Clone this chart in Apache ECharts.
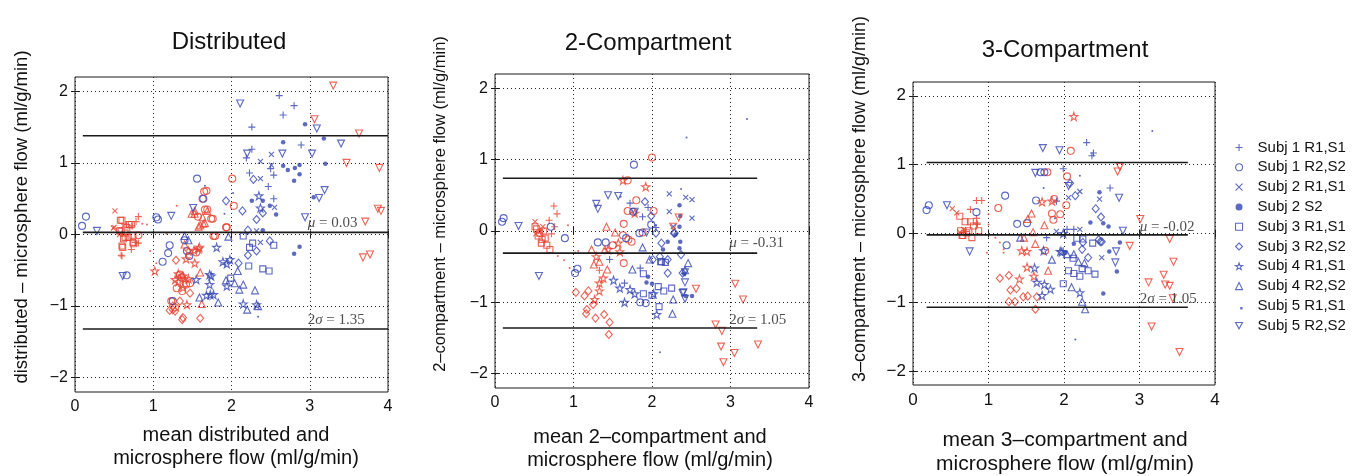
<!DOCTYPE html>
<html>
<head>
<meta charset="utf-8">
<script src="https://cdn.jsdelivr.net/npm/echarts@6/dist/echarts.min.js"></script>
<style>
  html, body { margin: 0; background: #fff; }
  #main { width: 1371px; height: 476px; }
</style>
</head>
<body>
<div id="main"></div>
<script>
// legend entries, one per subject / run
var subjects = ['Subj 1 R1,S1', 'Subj 1 R2,S2', 'Subj 2 R1,S1', 'Subj 2 S2', 'Subj 3 R1,S1',
                'Subj 3 R2,S2', 'Subj 4 R1,S1', 'Subj 4 R2,S2', 'Subj 5 R1,S1', 'Subj 5 R2,S2'];
var yTicks = [-2, -1, 0, 1, 2];

// ---- Distributed ----
var distPlusRed = [[0.81,0.25],[0.70,0.09],[0.81,-0.12],[0.72,-0.21],[0.60,-0.30],[0.78,0.18],[0.66,0.14],[0.77,-0.11],[0.59,-0.29],[0.73,0.12]];
var distPlusBlue = [[2.61,1.94],[2.80,1.80],[2.66,1.67],[2.26,1.50],[2.89,1.25],[2.26,1.19],[2.19,1.07],[2.50,0.92],[2.23,0.86],[2.54,0.83],[2.47,0.67],[2.54,0.50]];
var distCircRed = [[2.01,0.78],[1.65,0.60],[1.68,0.61],[1.63,0.50],[2.03,0.40],[1.66,0.35],[1.69,0.35],[1.74,0.22],[1.76,0.22],[1.94,0.10],[1.93,0.10],[1.77,-0.02],[1.79,-0.02],[0.81,-0.01],[1.34,-0.56],[1.47,-0.68],[1.30,-0.75],[1.37,-0.79],[1.28,-1.02],[1.23,-0.93],[1.57,0.25],[1.36,-0.60],[1.42,-0.70],[1.55,-0.25]];
var distCircBlue = [[1.56,0.78],[1.64,0.50],[0.14,0.25],[0.09,0.12],[1.06,0.21],[1.04,0.24],[1.21,-0.15],[1.19,-0.26],[1.12,-0.38],[0.66,-0.57],[1.43,-0.23],[1.25,-0.93],[1.46,-0.30],[1.40,-0.08]];
var distCrossRed = [[0.51,0.33],[0.49,0.09],[0.57,0.00],[0.62,0.12],[0.50,0.10]];
var distCrossBlue = [[2.51,1.12],[2.37,1.02],[2.37,0.78],[2.55,0.38],[2.32,0.05],[2.37,-0.11],[2.51,0.97]];
var distFillRed = [];
var distFillBlue = [[2.94,1.54],[2.66,1.29],[3.18,1.34],[3.20,0.99],[2.66,0.96],[2.72,0.90],[2.81,0.93],[2.87,0.97],[2.80,0.75],[2.87,0.84],[3.05,0.52],[2.57,0.28],[2.49,0.40],[2.40,0.06],[2.87,-0.17],[2.80,-0.27],[2.26,0.47],[2.40,0.47]];
var distSqRed = [[0.60,0.20],[0.58,0.20],[0.72,0.14],[0.64,0.02],[0.59,0.05],[0.64,-0.04],[0.74,-0.01],[0.62,-0.06],[0.75,-0.13],[0.74,-0.11],[0.60,-0.16],[0.61,-0.18],[0.69,0.14],[0.68,-0.04],[0.57,0.05]];
var distSqBlue = [[2.15,-0.02],[2.23,-0.18],[2.27,-0.12],[2.54,-0.15],[2.22,-0.44],[2.40,-0.48],[2.48,-0.51],[1.99,-0.61]];
var distDiaRed = [[1.29,-0.36],[1.21,-1.06],[1.28,-1.07],[1.25,-1.05],[1.37,-1.19],[1.38,-1.16],[1.60,-1.17],[1.34,-0.93],[1.47,-0.82],[1.25,-1.00]];
var distDiaBlue = [[2.28,0.77],[1.93,0.47],[2.14,0.33],[2.32,0.21],[2.40,0.30],[2.21,0.06],[2.49,-0.09],[2.21,-0.29],[2.32,-0.23],[2.09,-0.40]];
var distStarRed = [[1.02,-0.51],[1.43,-0.98],[1.53,-0.40],[1.42,-0.34],[1.59,-0.18],[1.45,-0.23],[1.28,-0.63],[1.32,-0.66],[1.38,-0.58],[1.45,-0.62],[1.32,-0.55],[1.40,-0.62],[1.38,-0.74],[1.52,-0.22],[1.58,-0.20]];
var distStarBlue = [[2.35,0.54],[2.37,0.37],[1.81,-0.18],[1.89,-0.38],[1.94,-0.41],[1.98,-0.35],[1.74,-0.58],[1.72,-0.56],[1.72,-0.70],[1.94,-0.72],[1.68,-0.85],[1.77,-0.84],[1.73,-0.84],[2.15,-0.97],[1.55,-0.63],[2.32,-0.98]];
var distTriRed = [[1.49,0.29],[1.53,0.29],[1.60,0.13],[1.69,0.33],[1.64,0.15],[1.58,0.11],[1.40,-0.14],[1.60,-0.53],[1.62,-0.97],[1.66,0.16],[1.53,0.33],[1.63,0.24]];
var distTriBlue = [[1.96,-0.03],[1.40,-0.02],[1.45,-0.08],[2.04,-0.68],[2.15,-0.70],[2.30,-0.78],[1.59,-0.88],[1.83,-0.95],[2.20,-1.05],[2.34,-1.00],[1.93,-0.64],[2.08,-0.51],[2.10,-0.77]];
var distPtRed = [[0.96,-0.23],[1.04,-0.40],[0.92,0.14],[1.17,0.01],[1.30,0.40],[0.86,0.15]];
var distPtBlue = [[1.66,0.68],[2.34,-1.15],[2.02,0.58],[1.91,0.29]];
var distInvRed = [[3.30,2.08],[3.06,1.61],[3.63,1.41],[3.47,1.00],[3.89,0.93],[3.87,0.36],[3.91,0.33],[3.71,0.18],[3.68,-0.32],[3.77,-0.28]];
var distInvBlue = [[2.11,1.83],[3.09,1.48],[3.40,1.27],[3.03,1.13],[2.65,1.13],[2.20,1.13],[3.19,0.62],[3.12,0.51],[2.94,0.24],[1.51,0.37],[1.23,0.26],[0.28,0.05],[0.61,-0.58]];

// ---- 2-Compartment ----
var twoPlusRed = [[0.75,0.35],[0.79,0.24],[0.69,0.15],[0.76,0.06],[0.72,-0.04],[1.33,-0.55]];
var twoPlusBlue = [[1.72,0.39],[1.88,0.20],[1.95,0.33],[1.46,-0.40],[1.65,-0.73],[1.85,-0.52],[2.05,0.05]];
var twoCircRed = [[2.00,1.03],[1.69,0.71],[1.80,0.43],[2.02,0.28],[1.69,0.28],[1.64,0.10],[1.88,-0.02],[1.63,-0.06],[1.74,-0.15],[1.64,-0.45],[1.70,-0.12],[1.50,-0.20]];
var twoCircBlue = [[1.77,0.93],[0.11,0.18],[0.09,0.13],[0.71,0.06],[0.89,-0.10],[1.05,-0.53],[1.02,-0.59],[1.31,-0.16],[1.41,-0.16],[1.99,0.09],[1.85,-1.00],[1.92,-1.01],[1.76,0.27],[1.84,-0.03],[1.67,-0.10]];
var twoCrossRed = [[0.51,0.13],[0.61,0.06],[0.52,-0.04],[0.58,0.00]];
var twoCrossBlue = [[2.22,0.52],[2.43,0.47],[2.51,0.44],[2.51,0.18],[2.22,0.27],[2.27,0.06]];
var twoFillRed = [];
var twoFillBlue = [[2.35,0.36],[2.35,0.06],[2.36,-0.15],[2.35,-0.24],[2.20,-0.15],[2.14,-0.26],[2.43,-0.91],[2.51,-0.91],[1.95,-0.64],[1.93,-0.72],[2.00,-0.74],[2.36,0.21],[2.30,-0.05],[2.41,-0.60]];
var twoSqRed = [[0.51,0.06],[0.57,-0.03],[0.64,-0.10],[0.70,-0.26],[0.59,-0.17],[0.62,0.00],[0.66,-0.20],[0.55,-0.07],[0.60,-0.12],[0.53,0.03]];
var twoSqBlue = [[1.89,-0.60],[1.89,-0.88],[2.09,-1.06],[2.15,-0.84],[2.25,-0.80],[2.08,-0.78],[2.17,-0.44],[2.11,-0.43],[2.00,-0.90],[2.12,-0.43]];
var twoDiaRed = [[1.03,-0.86],[1.14,-0.91],[1.19,-0.84],[1.17,-1.10],[1.16,-1.16],[1.28,-1.22],[1.39,-1.17],[1.46,-1.28],[1.45,-1.45],[1.25,-1.03]];
var twoDiaBlue = [[1.91,0.41],[1.99,0.21],[2.12,-0.17],[2.01,-0.40],[2.20,-0.59],[2.20,-0.40],[2.37,-0.33],[2.39,-0.59],[2.28,-0.03],[2.05,-0.03],[2.29,-0.03],[2.10,-0.36]];
var twoStarRed = [[1.63,0.71],[1.92,0.62],[1.78,0.25],[1.57,-0.17],[1.59,-0.29],[1.44,-0.26],[1.29,-0.36],[1.33,-0.73],[1.38,-0.66],[1.33,-0.84],[1.27,-0.96]];
var twoStarBlue = [[1.51,-0.69],[1.65,-1.00],[1.78,-0.88],[2.06,-1.17],[1.59,-0.80],[1.72,-0.82],[2.02,-0.88]];
var twoTriRed = [[1.23,-0.26],[1.42,0.06],[1.53,-0.02],[1.26,-0.47],[1.33,-0.43],[1.40,-0.26],[1.43,-0.54]];
var twoTriBlue = [[1.88,-0.23],[1.75,-0.54],[2.27,-0.96],[2.26,-1.16],[2.46,-0.45],[2.42,-0.55],[1.97,-0.40]];
var twoPtRed = [[0.93,0.08],[0.88,-0.41],[0.95,-0.52],[1.02,-0.30],[1.06,-0.28],[0.80,-0.35]];
var twoPtBlue = [[3.21,1.57],[2.44,1.31],[2.37,0.59],[2.10,-1.70],[2.05,0.08],[1.60,0.48]];
var twoInvRed = [[2.34,0.19],[2.27,0.06],[2.56,-0.81],[3.06,-0.74],[3.16,-0.96],[2.81,-1.31],[2.89,-1.40],[2.88,-1.62],[3.05,-1.71],[2.91,-1.84],[3.35,-1.59]];
var twoInvBlue = [[0.30,0.07],[0.56,-0.63],[1.44,0.50],[1.57,0.49],[1.29,0.38],[1.31,0.31],[1.78,0.27],[2.42,-0.58],[2.42,-0.72],[2.42,-0.95],[2.40,-0.86],[1.93,-0.02],[2.39,-0.87]];

// ---- 3-Compartment ----
var threePlusRed = [[0.84,0.48],[0.91,0.48],[0.76,0.35],[0.84,0.22],[0.85,0.15],[0.70,0.03],[0.85,0.13]];
var threePlusBlue = [[2.30,1.32],[2.39,1.17],[2.37,1.13],[1.99,0.94],[2.61,0.66],[1.90,0.47],[2.04,0.06],[2.13,0.06],[1.77,-0.06],[1.99,-0.25]];
var threeCircRed = [[2.09,1.20],[1.78,0.89],[2.04,0.83],[1.87,0.50],[2.03,0.41],[1.84,0.29],[1.95,0.28],[1.86,0.20],[1.13,0.37],[1.75,-0.25]];
var threeCircBlue = [[0.21,0.41],[0.18,0.34],[1.22,0.55],[1.63,0.48],[1.74,0.89],[1.24,-0.17],[1.38,0.14],[0.84,0.31],[1.51,0.15],[1.69,0.89]];
var threeCrossRed = [[0.52,0.36],[0.58,0.30],[0.67,0.06],[0.62,0.02]];
var threeCrossBlue = [[2.21,0.61],[2.47,0.50],[2.21,0.06],[2.06,0.52],[2.50,-0.35],[1.90,0.03]];
var threeFillRed = [];
var threeFillBlue = [[2.47,0.60],[2.59,0.10],[2.52,0.15],[2.74,-0.13],[2.60,-0.26],[2.70,-0.55],[2.52,-0.87],[2.35,0.16],[2.13,-0.15],[2.02,-0.28]];
var threeSqRed = [[0.62,0.25],[0.69,0.17],[0.76,0.17],[0.63,0.04],[0.74,0.04],[0.78,-0.06],[0.87,0.04],[0.66,-0.03],[0.65,-0.03],[0.71,0.01],[0.80,0.11]];
var threeSqBlue = [[2.17,-0.07],[2.25,-0.08],[2.38,-0.14],[2.12,-0.36],[2.32,-0.54],[2.21,-0.62],[2.41,-0.59],[1.99,-0.73],[2.06,-0.54],[2.13,-0.58],[2.24,-0.51]];
var threeDiaRed = [[1.15,-0.65],[1.27,-0.61],[1.29,-0.82],[1.37,-0.80],[1.27,-0.99],[1.35,-0.99],[1.46,-0.92],[1.52,-0.91],[1.64,-0.92],[1.62,-1.10]];
var threeDiaBlue = [[2.08,0.73],[2.15,0.55],[2.42,0.36],[2.49,0.24],[2.46,-0.09],[2.32,-0.35],[2.25,-0.13],[2.24,-0.23],[2.50,-0.12],[2.48,-0.12]];
var threeStarRed = [[2.13,1.70],[1.71,0.46],[1.84,0.47],[1.44,-0.25],[1.51,-0.26],[1.60,-0.62],[1.51,-0.49],[1.41,-0.66]];
var threeStarBlue = [[1.73,-0.25],[1.97,-0.27],[1.95,-0.26],[1.99,0.00],[1.61,-0.50],[1.64,-0.71],[1.74,-0.74],[1.82,-0.81],[1.71,-0.90],[2.21,-0.86]];
var threeTriRed = [[1.57,0.29],[1.52,0.21],[1.74,0.12],[1.59,0.02],[1.47,-0.06],[1.62,-0.15],[1.79,-0.54]];
var threeTriBlue = [[1.42,-0.06],[1.84,-0.38],[2.04,-0.30],[2.27,-0.43],[2.10,-0.78],[2.24,-0.99],[2.28,-1.10],[2.19,-0.41],[2.13,-0.30]];
var threePtRed = [[1.00,0.28],[1.00,0.13],[1.09,-0.06],[1.15,-0.13],[1.20,-0.23],[1.20,-0.28],[0.98,-0.28]];
var threePtBlue = [[3.17,1.49],[1.73,0.66],[2.21,0.84],[2.15,-1.54],[1.88,0.22]];
var threeInvRed = [[2.74,0.97],[2.71,0.90],[3.01,0.21],[2.87,-0.18],[3.40,-0.08],[3.45,-0.41],[3.12,-0.71],[3.32,-0.60],[3.34,-0.74],[3.40,-0.76],[3.44,-0.94],[3.16,-1.35],[3.53,-1.72]];
var threeInvBlue = [[0.45,0.41],[0.75,-0.26],[1.72,1.24],[1.94,1.21],[1.62,0.88],[2.06,0.69],[2.73,0.52],[2.78,0.04],[2.69,-0.26],[2.68,-0.42]];

// bias (mean) and 2 sigma, plus x extent of the agreement lines
var panelMean = [0.03, -0.31, -0.02];
var panelTwoSigma = [1.35, 1.05, 1.05];
var panelLineX = [[0.1, 4.0], [0.1, 3.34], [0.18, 3.64]];
var panelMeanText = ['0.03', '-0.31', '-0.02'];
var panelSigmaText = ['1.35', '1.05', '1.05'];
var panelMuLabelAt = [[2.98, 0.15], [2.99, -0.18], [3.01, 0.09]];
var panelSigmaLabelAt = [[2.98, -1.20], [2.99, -1.25], [3.01, -0.96]];

var panelData = [
  [[distPlusRed, distPlusBlue], [distCircRed, distCircBlue], [distCrossRed, distCrossBlue], [distFillRed, distFillBlue], [distSqRed, distSqBlue],
   [distDiaRed, distDiaBlue], [distStarRed, distStarBlue], [distTriRed, distTriBlue], [distPtRed, distPtBlue], [distInvRed, distInvBlue]],
  [[twoPlusRed, twoPlusBlue], [twoCircRed, twoCircBlue], [twoCrossRed, twoCrossBlue], [twoFillRed, twoFillBlue], [twoSqRed, twoSqBlue],
   [twoDiaRed, twoDiaBlue], [twoStarRed, twoStarBlue], [twoTriRed, twoTriBlue], [twoPtRed, twoPtBlue], [twoInvRed, twoInvBlue]],
  [[threePlusRed, threePlusBlue], [threeCircRed, threeCircBlue], [threeCrossRed, threeCrossBlue], [threeFillRed, threeFillBlue], [threeSqRed, threeSqBlue],
   [threeDiaRed, threeDiaBlue], [threeStarRed, threeStarBlue], [threeTriRed, threeTriBlue], [threePtRed, threePtBlue], [threeInvRed, threeInvBlue]]
];

var RED = '#e6402e';
var BLUE = '#3345b2';
var INK = '#1a1a1a';

var markers = [
  { symbol: 'path://M5,0L5,10M0,5L10,5', size: 7, filled: false },
  { symbol: 'circle', size: 7, filled: false },
  { symbol: 'path://M0,0L10,10M10,0L0,10', size: 5, filled: false },
  { symbol: 'circle', size: 4.5, filled: true },
  { symbol: 'rect', size: 6, filled: false },
  { symbol: 'diamond', size: [7, 8], filled: false },
  { symbol: 'path://M5,0L6.2,3.6L10,3.6L6.9,5.9L8.1,9.5L5,7.3L1.9,9.5L3.1,5.9L0,3.6L3.8,3.6Z', size: 8, filled: false },
  { symbol: 'triangle', size: 7, filled: false },
  { symbol: 'circle', size: 2, filled: true },
  { symbol: 'path://M0,0L10,0L5,9Z', size: 7, filled: false }
];

function markerStyle(m, c) {
  if (m.filled) return { color: c };
  return { color: 'rgba(0,0,0,0)', borderColor: c, borderWidth: 1.1 };
}

var grids = [
  { left: 75, top: 77, width: 313, height: 315 },
  { left: 495, top: 74, width: 314, height: 314 },
  { left: 913, top: 82, width: 302, height: 303 }
];
var tickFont = [16, 16, 17];

var xAxes = [], yAxes = [], series = [];
grids.forEach(function (g, p) {
  xAxes.push({
    gridIndex: p, type: 'value', min: 0, max: 4, interval: 1,
    axisLine: { show: false },
    axisTick: { inside: true, length: 4, lineStyle: { color: INK } },
    axisLabel: { margin: 7, fontSize: tickFont[p], color: '#111', fontFamily: 'Liberation Sans' },
    splitLine: { show: true, lineStyle: { color: '#222', type: [1, 3], width: 1 } }
  });
  xAxes.push({
    gridIndex: p, type: 'value', position: 'top', min: 0, max: 4, interval: 1,
    axisLine: { show: false }, axisLabel: { show: false }, splitLine: { show: false },
    axisTick: { inside: true, length: 4, lineStyle: { color: INK } }
  });
  yAxes.push({
    gridIndex: p, type: 'value', min: -2.2, max: 2.2,
    axisLine: { show: false },
    axisTick: { inside: true, length: 4, customValues: yTicks, lineStyle: { color: INK } },
    axisLabel: { margin: 7, customValues: yTicks, fontSize: tickFont[p], color: '#111', fontFamily: 'Liberation Sans',
      formatter: function (v) { return v < 0 ? '\u2212' + Math.abs(v) : String(v); } },
    splitLine: { show: false }
  });
  yAxes.push({
    gridIndex: p, type: 'value', position: 'right', min: -2.2, max: 2.2,
    axisLine: { show: false }, axisLabel: { show: false }, splitLine: { show: false },
    axisTick: { inside: true, length: 4, customValues: yTicks, lineStyle: { color: INK } }
  });

  var xa = p * 2, ya = p * 2;
  panelData[p].forEach(function (pair, k) {
    var m = markers[k];
    [[pair[0], RED], [pair[1], BLUE]].forEach(function (d) {
      if (!d[0].length) return;
      series.push({
        type: 'scatter', name: subjects[k], xAxisIndex: xa, yAxisIndex: ya,
        symbol: m.symbol, symbolSize: m.size, itemStyle: markerStyle(m, d[1]),
        data: d[0], z: 3
      });
    });
  });

  var mu = panelMean[p], s2 = panelTwoSigma[p], lx = panelLineX[p];
  [mu + s2, mu, mu - s2].forEach(function (yv, j) {
    var ser = {
      type: 'line', xAxisIndex: xa, yAxisIndex: ya, symbol: 'none', silent: true, z: 4,
      lineStyle: { color: INK, width: j === 1 ? 1.8 : 1.4 },
      data: [[lx[0], yv], [lx[1], yv]]
    };
    if (j === 1) {
      ser.markLine = {
        silent: true, symbol: 'none', label: { show: false }, animation: false,
        lineStyle: { color: '#222', type: [1, 3], width: 1 },
        data: yTicks.map(function (v) { return { yAxis: v }; })
      };
    }
    series.push(ser);
  });

  var labelRich = { i: { fontStyle: 'italic', fontFamily: 'Liberation Serif', fontSize: 15, color: '#222' } };
  series.push({
    type: 'scatter', xAxisIndex: xa, yAxisIndex: ya, symbolSize: 1, silent: true, z: 5,
    itemStyle: { color: 'rgba(0,0,0,0)' },
    label: {
      show: true, position: [0, 0], align: 'left', verticalAlign: 'middle',
      fontFamily: 'Liberation Serif', fontSize: 15, color: '#222', rich: labelRich,
      formatter: function (prm) { return prm.dataIndex === 0 ? '{i|\u03bc} = ' + panelMeanText[p] : '2{i|\u03c3} = ' + panelSigmaText[p]; }
    },
    data: [panelMuLabelAt[p], panelSigmaLabelAt[p]]
  });
});

function txt(x, y, text, size, rot) {
  return {
    type: 'text', x: x, y: y, rotation: rot || 0, silent: true,
    style: { text: text, fontFamily: 'Liberation Sans', fontSize: size, fill: '#111',
             textAlign: 'center', textVerticalAlign: 'middle', lineHeight: size + 3 }
  };
}

var chart = echarts.init(document.getElementById('main'));
chart.setOption({
  animation: false,
  backgroundColor: '#fff',
  grid: grids.map(function (g) {
    return { left: g.left, top: g.top, width: g.width, height: g.height, show: true,
             borderColor: INK, borderWidth: 1, backgroundColor: '#fff' };
  }),
  xAxis: xAxes,
  yAxis: yAxes,
  legend: {
    orient: 'vertical', left: 1230, top: 135, itemWidth: 7, itemHeight: 7, itemGap: 4.8,
    selectedMode: false,
    textStyle: { fontFamily: 'Liberation Sans', fontSize: 15, color: '#111', padding: [0, 0, 0, 10] },
    data: subjects.map(function (n, k) {
      var m = markers[k];
      var icon = k === 8 ? 'path://M0,0M4,4L6,4L6,6L4,6Z' : m.symbol;
      return { name: n, icon: icon, itemStyle: markerStyle(m, BLUE) };
    })
  },
  graphic: [
    txt(229, 42, 'Distributed', 24),
    txt(648, 43, '2-Compartment', 24),
    txt(1065, 50, '3-Compartment', 24),
    txt(236, 447, 'mean distributed and\nmicrosphere flow (ml/g/min)', 20),
    txt(650, 449, 'mean 2\u2013compartment and\nmicrosphere flow (ml/g/min)', 20),
    txt(1065, 452, 'mean 3\u2013compartment and\nmicrosphere flow (ml/g/min)', 21),
    txt(22, 217, 'distributed \u2013 microsphere flow (ml/g/min)', 18.5, Math.PI / 2),
    txt(440, 204, '2\u2013compartment \u2013 microsphere flow (ml/g/min)', 16.5, Math.PI / 2),
    txt(860, 199, '3\u2013compartment \u2013 microsphere flow (ml/g/min)', 18, Math.PI / 2)
  ],
  series: series
});
</script>
</body>
</html>
